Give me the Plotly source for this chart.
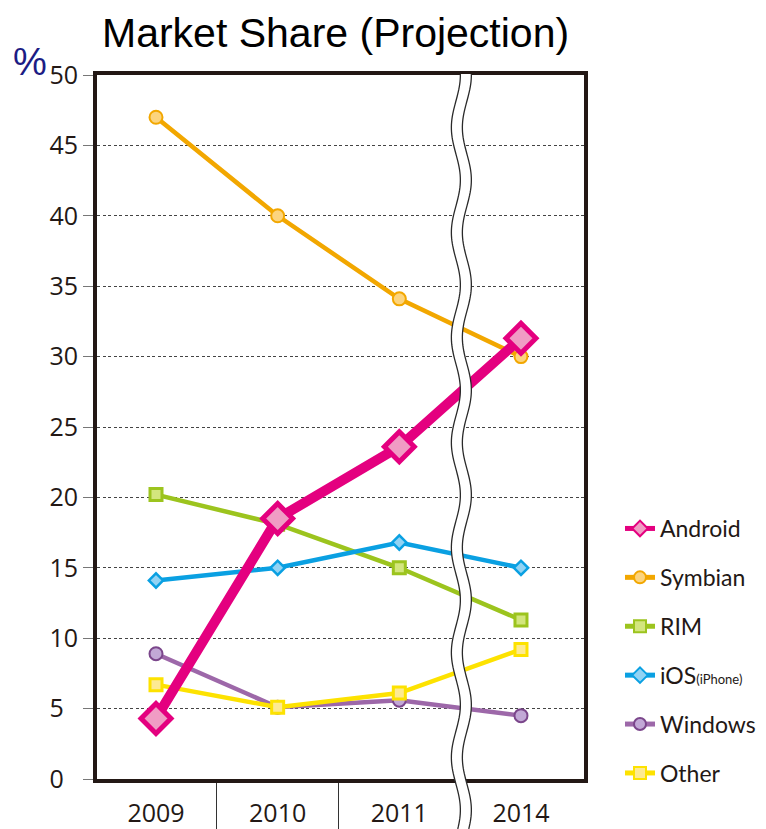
import numpy as np
import plotly.graph_objects as go

# ---------------- data ----------------
years = ["2009", "2010", "2011", "2014"]
android = [4.3, 18.5, 23.6, 31.3]
symbian = [47.0, 40.0, 34.1, 30.0]
rim = [20.2, 18.1, 15.0, 11.3]
ios = [14.1, 15.0, 16.8, 15.0]
windows = [8.9, 5.1, 5.6, 4.5]
other = [6.7, 5.1, 6.1, 9.2]
y_ticks = [0, 5, 10, 15, 20, 25, 30, 35, 40, 45, 50]
y_tick_labels = ["0", "5", "10", "15", "20", "25", "30", "35", "40", "45", "50"]

# ---------------- layout constants ----------------
OFF = 8                      # page body margin of the browser
W, H = 766 - OFF, 829 - OFF
ML, MT = 97 - OFF, 75 - OFF
MR, MB = 182, 50
PW, PH = W - ML - MR, H - MT - MB
XMIN, XMAX = -0.485, 3.518
YMIN, YMAX = 0, 50
FRAME = "#231815"
TXT = "#231815"
TICKFONT = "Open Sans"
LEGFONT = "Lato"


def px_x(x):   # reference pixel -> paper x
    return (x - OFF - ML) / PW


def px_y(y):   # reference pixel -> paper y
    return (H - MB - (y - OFF)) / PH


xpos = list(range(len(years)))

fig = go.Figure()

series = [
    # name, values, line color, fill, edge, symbol, size, line width, marker line width, rank
    ("Symbian", symbian, "#f2a700", "#fcd47e", "#f2a700", "circle", 13, 4.5, 2, 2),
    ("RIM", rim, "#9cc41e", "#d3e67e", "#9cc41e", "square", 12, 4.5, 3, 3),
    ("iOS<span style='font-size:13px'>(iPhone)</span>", ios, "#0aa0e2", "#92d3f4", "#0aa0e2", "diamond", 11, 4.5, 2.5, 4),
    ("Windows", windows, "#9d68a9", "#c2a8d6", "#7b468b", "circle", 13, 4.5, 2, 5),
    ("Other", other, "#fde200", "#fdea92", "#fde200", "square", 12, 4.5, 3, 6),
    ("Android", android, "#e4007f", "#f09cc4", "#e4007f", "diamond", 23, 10, 5, 1),
]

for name, vals, lc, fc, ec, sym, sz, lw, mlw, rank in series:
    fig.add_trace(go.Scatter(
        x=xpos, y=vals, name=name, mode="lines+markers",
        line=dict(color=lc, width=lw),
        marker=dict(symbol=sym, size=sz, color=fc, line=dict(color=ec, width=mlw)),
        legendrank=rank, legendgroup=name,
        cliponaxis=False,
    ))

# ---------------- axis break (wavy band) ----------------
brk = (2.51 - XMIN) / (XMAX - XMIN)
amp = 4.5 / PW
half = 5.5 / PW
period = 105.0
py = np.linspace(MT - 1, H, 300)
cx = brk + amp * np.cos(2 * np.pi * (py - MT) / period)
yp = (H - MB - py) / PH
left = cx - half
right = cx + half


def poly(xs, ys):
    return "M " + " L ".join(f"{a:.5f},{b:.5f}" for a, b in zip(xs, ys))


fill_path = poly(np.concatenate([left, right[::-1]]), np.concatenate([yp, yp[::-1]])) + " Z"
fig.add_shape(type="path", path=fill_path, xref="paper", yref="paper",
              fillcolor="white", line=dict(width=0), layer="above")
for edge in (left, right):
    fig.add_shape(type="path", path=poly(edge, yp), xref="paper", yref="paper",
                  line=dict(color="#2a2a2a", width=1.3), layer="above")

# ---------------- texts ----------------
fig.add_annotation(text="Market Share (Projection)", xref="paper", yref="paper",
                   x=px_x(335), y=px_y(33), showarrow=False,
                   font=dict(family="Liberation Sans", size=41, color="black"),
                   xanchor="center", yanchor="middle")
fig.add_annotation(text="%", xref="paper", yref="paper",
                   x=px_x(30), y=px_y(62), showarrow=False,
                   font=dict(family="Liberation Sans", size=38, color="#1c1c84"),
                   xanchor="center", yanchor="middle")

tick_text = [t + "\u2007" if len(t) == 1 else t for t in y_tick_labels]

fig.update_layout(
    width=W, height=H, autosize=False,
    margin=dict(l=ML, r=MR, t=MT, b=MB, pad=0, autoexpand=False),
    paper_bgcolor="white", plot_bgcolor="white",
    showlegend=True,
    legend=dict(
        x=px_x(620), xanchor="left",
        y=px_y(507), yanchor="top",
        font=dict(family=LEGFONT, size=23, color=TXT),
        itemsizing="constant", tracegroupgap=16,
        bgcolor="rgba(0,0,0,0)", borderwidth=0,
    ),
    xaxis=dict(
        range=[XMIN, XMAX], tickmode="array", tickvals=xpos, ticktext=years,
        ticks="", showgrid=False, zeroline=False, automargin=False,
        showline=True, mirror=True, linewidth=4, linecolor=FRAME,
        tickfont=dict(family=TICKFONT, size=25, color=TXT),
        ticklabelstandoff=9,
        minor=dict(tickmode="array", tickvals=[0.5, 1.5], ticks="outside",
                   ticklen=52, tickwidth=1, tickcolor="#333333", showgrid=False),
    ),
    yaxis=dict(
        range=[YMIN, YMAX], tickmode="array", tickvals=y_ticks, ticktext=tick_text,
        ticks="outside", ticklen=10, tickwidth=1, tickcolor="#777777",
        showgrid=True, gridcolor="#444444", gridwidth=1.3, griddash="3px,2.5px",
        zeroline=False, automargin=False,
        showline=True, mirror=True, linewidth=4, linecolor=FRAME,
        tickfont=dict(family=TICKFONT, size=25, color=TXT),
    ),
)

fig.write_html("out.html")
